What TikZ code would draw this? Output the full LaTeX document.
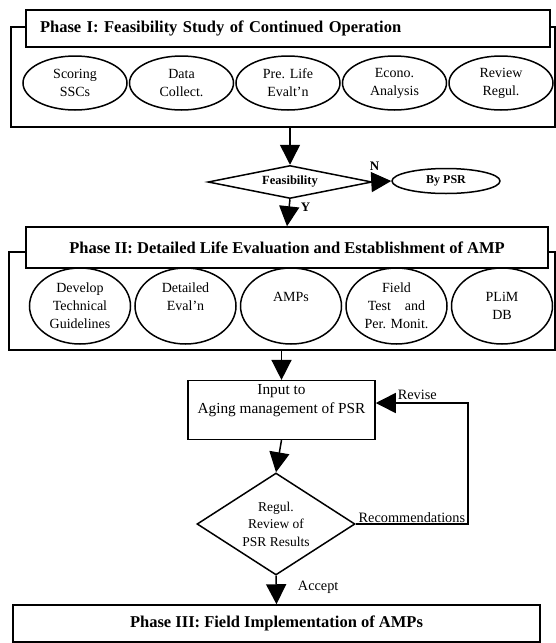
\documentclass[tikz,border=0pt]{standalone}
\usepackage{fontspec}
\setmainfont{Liberation Serif}
\usetikzlibrary{arrows.meta,positioning,shapes}
\tikzstyle{frame}=[rectangle,draw,line width=1.5pt]
\tikzstyle{phase}=[rectangle,draw,line width=1.5pt,fill=white,
font=\fontsize{16.5}{19}\selectfont\bfseries]
\tikzstyle{task}=[ellipse,draw,line width=1.5pt,inner sep=0pt,align=center,
font=\fontsize{14}{18}\selectfont]
\tikzstyle{check}=[diamond,draw,line width=1.5pt,inner sep=0pt,align=center,
fill=white]
\tikzstyle{box}=[rectangle,draw,line width=1.5pt,align=center,
font=\fontsize{15.3}{19}\selectfont]
\tikzstyle{lbl}=[inner sep=1pt,font=\fontsize{14.3}{17}\selectfont]

\begin{document}
\begin{tikzpicture}[x=1pt,y=-1pt,>={Triangle[length=20pt,width=20pt]},line width=1.5pt]
            \useasboundingbox (0,0) rectangle (556,643);
            \fill[white] (0,0) rectangle (556,643);

            % Phase I PART

            \node[frame,minimum width=544pt,minimum height=100pt] (fr1) at (283,77) {};
            \node[phase,text width=496pt,inner xsep=14pt,minimum height=37pt,align=left] (ph1) at (288,28.5) {Phase I: Feasibility Study of Continued Operation};

            \node[task,minimum width=104pt,minimum height=54pt] (a1) at (75,83) {Scoring\\SSCs};
            \node[task,minimum width=104pt,minimum height=54pt,right=1pt of a1] (a2) {Data\\Collect.};
            \node[task,minimum width=104pt,minimum height=54pt,right=1pt of a2] (a3) {Pre. Life\\Evalt'n};
            \node[task,minimum width=104pt,minimum height=54pt,right=1pt of a3] (a4) {Econo.\\Analysis};
            \node[task,minimum width=104pt,minimum height=54pt,right=1pt of a4] (a5) {Review\\Regul.};

            % Feasibility PART

            \node[check,aspect=5,minimum width=164pt,minimum height=33pt,font=\fontsize{12.5}{14}\selectfont\bfseries] (d1) at (290,182) {Feasibility};
            \node[task,minimum width=108pt,minimum height=25pt,font=\fontsize{12}{14}\selectfont\bfseries] (e1) at (446,181) {By PSR};

            \path[->] (d1.north |- fr1.south) edge node {} (d1.north);
            \path[->] (d1.east) edge node[lbl,pos=0.1,above=10pt,font=\fontsize{13}{15}\selectfont\bfseries] {N} (e1.west);

            % Phase II PART

            \node[frame,minimum width=546pt,minimum height=98pt] (fr2) at (282,301) {};
            \node[phase,minimum width=522pt,minimum height=41pt] (ph2) at (287,247.5) {Phase II: Detailed Life Evaluation and Establishment of AMP};

            \node[task,minimum width=101pt,minimum height=76pt] (b1) at (80,306) {Develop\\Technical\\Guidelines};
            \node[task,minimum width=101pt,minimum height=76pt,right=3pt of b1] (b2) {Detailed\\Eval'n\\~};
            \node[task,minimum width=101pt,minimum height=76pt,right=3pt of b2] (b3) {AMPs\\~};
            \node[task,minimum width=101pt,minimum height=76pt,right=3pt of b3] (b4) {Field\\Test\quad and\\Per. Monit.};
            \node[task,minimum width=101pt,minimum height=76pt,right=3pt of b4] (b5) {PLiM\\DB};

            \path[->] (d1.south) edge node[lbl,pos=0.3,right=10pt,font=\fontsize{13}{15}\selectfont\bfseries] {Y} (ph2.north);

            % Review PART

            \node[box,minimum width=187pt,minimum height=54pt] (in) at (281.5,410) {Input to\\Aging management of PSR\\[4pt]};
            \node[check,aspect=1.55,minimum width=158pt,minimum height=102pt,font=\fontsize{13.5}{17.5}\selectfont] (d2) at (276,524) {Regul.\\Review of\\PSR Results};
            \coordinate (rc) at (468,403);

            \path[->] (in.north |- fr2.south) edge node {} (in.north);
            \path[->] (in.south) edge node {} (d2.north);
            \draw[->] (d2.east) -- node[lbl,above] {Recommendations} (d2.east -| rc) -- (rc)
                -- node[lbl,above=2pt,pos=0.55] {Revise} (in.east |- rc);

            % Phase III PART

            \node[phase,minimum width=527pt,minimum height=37pt] (ph3) at (276.5,623.5) {Phase III: Field Implementation of AMPs};

            \path[->] (d2.south) edge node[lbl,pos=0.4,right=20pt] {Accept} (ph3.north);

        \end{tikzpicture}
\end{document}
